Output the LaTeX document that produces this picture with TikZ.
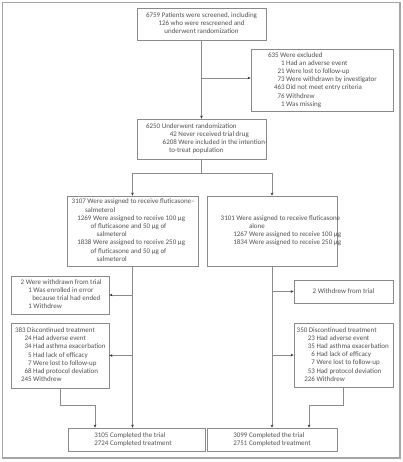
\documentclass[tikz,border=0pt]{standalone}
\usepackage{fontspec}
\setmainfont{Carlito}
\usetikzlibrary{arrows.meta}
\definecolor{txtgray}{HTML}{505050}
\definecolor{boxgray}{HTML}{8A8A8A}
\definecolor{linegray}{HTML}{8A8A8A}
\definecolor{framegray}{HTML}{A5A5A5}
\definecolor{tipgray}{HTML}{303030}
\newcommand{\bx}[2]{\makebox[#1pt][l]{\begin{tabular}{@{}l@{}}#2\end{tabular}}}
\newcommand{\ind}[1]{\hspace*{#1pt}}
\begin{document}
\begin{tikzpicture}[x=1pt,y=-1pt,
  box/.style={draw=boxgray, line width=0.8pt, inner sep=0pt, text=txtgray,
    font=\fontsize{7}{8.2}\selectfont},
  conn/.style={draw=linegray, line width=0.8pt},
  arr/.style={conn, -{Stealth[length=3pt,width=2.6pt,color=tipgray]}}]
\useasboundingbox (0,0) rectangle (403,462);
\draw[framegray, line width=1.3pt] (2.5,2.5) rectangle (400,458);

\node[box, minimum width=129pt, minimum height=32pt] (screen) at (201.5,24)
  {\begin{tabular}{@{}c@{}}6759 Patients were screened, including\\126 who were rescreened and\\underwent randomization\end{tabular}};

\node[box, minimum width=142pt, minimum height=62pt] (excl) at (322,80)
  {\makebox[108pt][l]{\begin{tabular}{@{\hspace{6pt}}r@{\ }l@{}}
   \multicolumn{2}{@{}l@{}}{635 Were excluded}\\
   1 & Had an adverse event\\
   21 & Were lost to follow-up\\
   73 & Were withdrawn by investigator\\
   463 & Did not meet entry criteria\\
   76 & Withdrew\\
   1 & Was missing\end{tabular}}};

\node[box, minimum width=129pt, minimum height=40pt] (rand) at (201.5,139)
  {\makebox[111pt][l]{\begin{tabular}{@{\hspace{16.7pt}}r@{\ }l@{}}
   \multicolumn{2}{@{}l@{}}{6250 Underwent randomization}\\
   42 & Never received trial drug\\
   6208 & Were included in the intention-\\
   \multicolumn{2}{@{\hspace{23pt}}l@{}}{to-treat population}\end{tabular}}};

\node[box, minimum width=131pt, minimum height=70pt] (fs) at (132.5,231)
  {\bx{121.6}{3107 Were assigned to receive fluticasone–\\
   \ind{13.3}salmeterol\\
   \ind{5.6}1269 Were assigned to receive 100 μg\\
   \ind{19}of fluticasone and 50 μg of\\
   \ind{25}salmeterol\\
   \ind{5.6}1838 Were assigned to receive 250 μg\\
   \ind{19}of fluticasone and 50 μg of\\
   \ind{25}salmeterol}};

\node[box, minimum width=130pt, minimum height=70pt] (f) at (272,231)
  {\bx{102.6}{3101 Were assigned to receive fluticasone\\
   \ind{28.3}alone\\
   \ind{12.6}1267 Were assigned to receive 100 μg\\
   \ind{12.6}1834 Were assigned to receive 250 μg}};

\node[box, minimum width=98pt, minimum height=38pt] (wl) at (60,295)
  {\bx{78.6}{2 Were withdrawn from trial\\
   \ind{7.6}1 Was enrolled in error\\
   \ind{11.6}because trial had ended\\
   \ind{7.6}1 Withdrew}};

\node[box, minimum width=98pt, minimum height=65pt] (dl) at (60,355.5)
  {\makebox[90pt][l]{\begin{tabular}{@{\hspace{6pt}}r@{\ }l@{}}
   \multicolumn{2}{@{}l@{}}{383 Discontinued treatment}\\
   24 & Had adverse event\\
   34 & Had asthma exacerbation\\
   5 & Had lack of efficacy\\
   7 & Were lost to follow-up\\
   68 & Had protocol deviation\\
   245 & Withdrew\end{tabular}}};

\node[box, minimum width=99pt, minimum height=23pt] (wr) at (343.5,291.5)
  {2 Withdrew from trial};

\node[box, minimum width=99pt, minimum height=64pt] (dr) at (343.5,355)
  {\makebox[93.6pt][l]{\begin{tabular}{@{\hspace{7.6pt}}r@{\ }l@{}}
   \multicolumn{2}{@{}l@{}}{350 Discontinued treatment}\\
   23 & Had adverse event\\
   35 & Had asthma exacerbation\\
   6 & Had lack of efficacy\\
   7 & Were lost to follow-up\\
   53 & Had protocol deviation\\
   226 & Withdrew\end{tabular}}};

\node[box, minimum width=137pt, minimum height=23pt] (cl) at (136.5,439.5)
  {\bx{84.4}{3105 Completed the trial\\2724 Completed treatment}};

\node[box, minimum width=130pt, minimum height=23pt] (cr) at (272,439.5)
  {\bx{77.4}{3099 Completed the trial\\2751 Completed treatment}};

\coordinate (b1) at (201.5,78);
\coordinate (sp) at (201.5,173);
\coordinate (jl) at (95,405);
\coordinate (jr) at (309,405);

\draw[arr] (screen.south) -- (rand.north);
\draw[arr] (b1) -- (b1 -| excl.west);
\draw[conn] (rand.south) -- (sp);
\draw[conn] (fs.north |- sp) -- (f.north |- sp);
\draw[arr] (fs.north |- sp) -- (fs.north);
\draw[arr] (f.north |- sp) -- (f.north);

\draw[arr] (fs.south) -- (fs.south |- cl.north);
\draw[arr] (fs.south |- wl.east) -- (wl.east);
\draw[arr] (fs.south |- dl.east) -- (dl.east);
\draw[arr] (dl.south) |- (jl) -- (jl |- cl.north);

\draw[arr] (f.south) -- (cr.north);
\draw[arr] (f.south |- wr.west) -- (wr.west);
\draw[arr] (f.south |- dr.west) -- (dr.west);
\draw[arr] (dr.south) |- (jr) -- (jr |- cr.north);
\end{tikzpicture}
\end{document}
